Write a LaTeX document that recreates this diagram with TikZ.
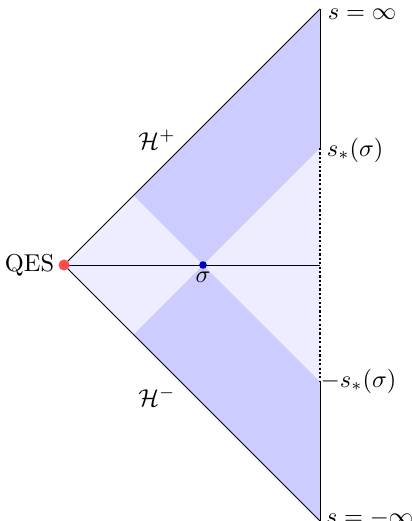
\documentclass[tikz,border=0pt]{standalone}
\usepackage{amsmath}
\begin{document}
\begin{tikzpicture}[x=0.41pt,y=-0.41pt,
  dark/.style={fill=blue!20},
  light/.style={fill=blue!7},
  edge/.style={draw=black,thin},
  lbl/.style={inner sep=1pt}]
\useasboundingbox (0,0) rectangle (411,521);
\coordinate (Q) at (64,265);
\coordinate (T) at (320,9);
\coordinate (B) at (320,521);
\coordinate (S) at (203,265);
\coordinate (UL) at (133.5,195.5);
\coordinate (LL) at (133.5,334.5);
\coordinate (SP) at (320,148);
\coordinate (SM) at (320,382);
\coordinate (M) at (320,265);
% shading
\fill[light] (Q) -- (UL) -- (S) -- (LL) -- cycle;
\fill[light] (S) -- (SP) -- (SM) -- cycle;
\fill[dark] (UL) -- (T) -- (SP) -- (S) -- cycle;
\fill[dark] (LL) -- (B) -- (SM) -- (S) -- cycle;
% edges
\draw[edge] (Q) -- (T);
\draw[edge] (Q) -- (B);
\draw[edge] (T) -- (SP);
\draw[edge] (SM) -- (B);
\draw[edge,dash pattern=on 0.9pt off 0.9pt,line width=0.45pt] (SP) -- (SM);
\draw[edge] (Q) -- (M);
% dots
\fill[red!70!white] (Q) circle (5.5);
\fill[blue!75!black] (S) circle (3.8);
% labels
\node[lbl,anchor=east] (qes) at (57,265) {QES};
\node[lbl,anchor=north] (sig) at (203,269) {$\sigma$};
\node[lbl,anchor=west] (sinf) at (325,14) {$s=\infty$};
\node[lbl,anchor=west] (sst) at (324,150) {$s_*(\sigma)$};
\node[lbl,anchor=west] (msst) at (318,381) {$-s_*(\sigma)$};
\node[lbl,anchor=west] (sminf) at (323,518) {$s=-\infty$};
\node[lbl] (hp) at (157,140) {$\mathcal{H}^+$};
\node[lbl] (hm) at (157,397) {$\mathcal{H}^-$};
\end{tikzpicture}
\end{document}
